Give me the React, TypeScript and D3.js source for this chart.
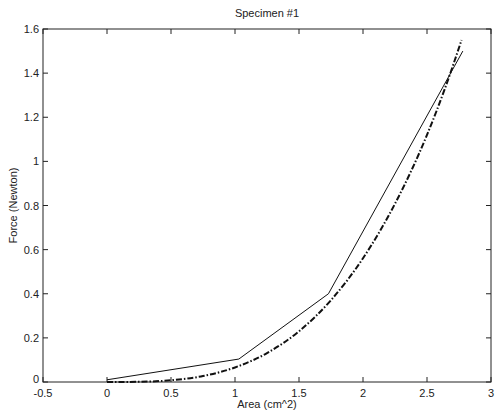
import React from "react";
import * as d3 from "d3";

const title = "Specimen #1";
const xLabel = "Area (cm^2)";
const yLabel = "Force (Newton)";
const xTicks = [-0.5, 0, 0.5, 1, 1.5, 2, 2.5, 3];
const yTicks = [0, 0.2, 0.4, 0.6, 0.8, 1, 1.2, 1.4, 1.6];

// measured data (solid line)
const measuredArea = [0, 1.03, 1.73, 2.78];
const measuredForce = [0.01, 0.104, 0.4, 1.5];

// fitted curve (dash-dot)
const fitArea = [0, 0.25, 0.5, 0.75, 1.0, 1.25, 1.5, 1.75, 2.0, 2.25, 2.5, 2.64, 2.77];
const fitForce = [0, 0.001, 0.008, 0.027, 0.066, 0.131, 0.23, 0.371, 0.561, 0.808, 1.12, 1.33, 1.55];

const W = 496;
const H = 415;
const M = { left: 43, right: 5, top: 29, bottom: 33 };

export default function App() {
  const x = d3.scaleLinear().domain([-0.5, 3]).range([M.left, W - M.right]);
  const y = d3.scaleLinear().domain([0, 1.6]).range([H - M.bottom, M.top]);
  const line = d3
    .line<[number, number]>()
    .x((d) => x(d[0]))
    .y((d) => y(d[1]));
  const curve = d3
    .line<[number, number]>()
    .x((d) => x(d[0]))
    .y((d) => y(d[1]))
    .curve(d3.curveMonotoneX);
  const measured = measuredArea.map((a, i) => [a, measuredForce[i]] as [number, number]);
  const fit = fitArea.map((a, i) => [a, fitForce[i]] as [number, number]);
  const x0 = x(-0.5), x1 = x(3), y0 = y(0), y1 = y(1.6);
  const tl = 5;
  const font = "Liberation Sans, Arial, Helvetica, sans-serif";
  return (
    <svg
      width={W}
      height={H}
      style={{ position: "absolute", left: 0, top: 0, background: "#fff" }}
      fontFamily={font}
    >
      <rect x={x0} y={y1} width={x1 - x0} height={y0 - y1} fill="none" stroke="#222" strokeWidth={1} />
      {xTicks.map((t) => (
        <g key={"x" + t}>
          <line x1={x(t)} x2={x(t)} y1={y0} y2={y0 - tl} stroke="#222" />
          <line x1={x(t)} x2={x(t)} y1={y1} y2={y1 + tl} stroke="#222" />
          <text x={x(t)} y={y0 + 15} fontSize={11} textAnchor="middle" fill="#222">
            {String(t)}
          </text>
        </g>
      ))}
      {yTicks.map((t) => (
        <g key={"y" + t}>
          <line x1={x0} x2={x0 + tl} y1={y(t)} y2={y(t)} stroke="#222" />
          <line x1={x1} x2={x1 - tl} y1={y(t)} y2={y(t)} stroke="#222" />
          <text x={x0 - 4} y={y(t) + (t === 0 ? 1 : 4)} fontSize={11} textAnchor="end" fill="#222">
            {String(t)}
          </text>
        </g>
      ))}
      <path d={line(measured) || ""} fill="none" stroke="#111" strokeWidth={1} />
      <path
        d={curve(fit) || ""}
        fill="none"
        stroke="#111"
        strokeWidth={2}
        strokeDasharray="6,2,1.5,2"
      />
      <text x={(x0 + x1) / 2} y={17} fontSize={11} textAnchor="middle" fill="#222">
        {title}
      </text>
      <text x={(x0 + x1) / 2} y={408} fontSize={11} textAnchor="middle" fill="#222">
        {xLabel}
      </text>
      <text
        transform={`translate(17,${(y0 + y1) / 2}) rotate(-90)`}
        fontSize={11}
        textAnchor="middle"
        fill="#222"
      >
        {yLabel}
      </text>
    </svg>
  );
}
